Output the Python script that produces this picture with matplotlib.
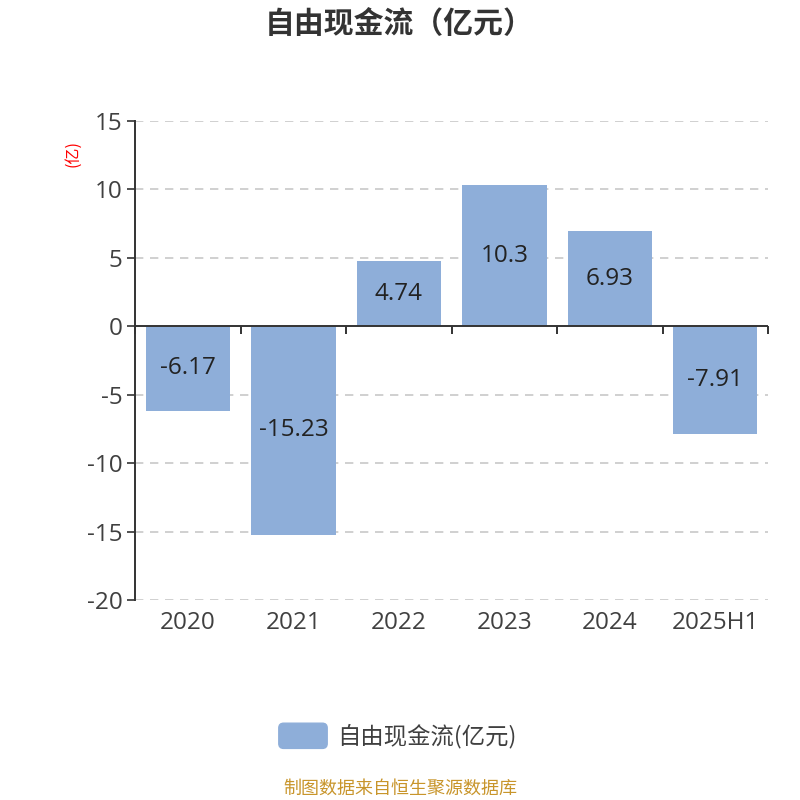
import matplotlib.pyplot as plt
from matplotlib.patches import FancyBboxPatch
import numpy as np

plt.rcParams['font.family'] = ['Open Sans', 'Noto Sans CJK SC', 'DejaVu Sans']

# data
years = ['2020', '2021', '2022', '2023', '2024', '2025H1']
fcf = [-6.17, -15.23, 4.74, 10.3, 6.93, -7.91]
fcf_labels = ['-6.17', '-15.23', '4.74', '10.3', '6.93', '-7.91']
y_ticks = [15, 10, 5, 0, -5, -10, -15, -20]

bar_color = '#8eaed9'
text_color = '#404040'
axis_color = '#333333'

fig = plt.figure(figsize=(8, 8), dpi=100)
ax = fig.add_axes([0.169, 0.25, 0.791, 0.599])

x = np.arange(len(years))
ax.bar(x, fcf, width=0.8, color=bar_color, zorder=2)
for xi, v, lab in zip(x, fcf, fcf_labels):
    ax.text(xi, v / 2, lab, ha='center', va='center', fontsize=17.5,
            color='#222222', zorder=3)

ax.set_xlim(-0.5, len(years) - 0.5)
ax.set_ylim(-20, 15)
ax.set_yticks(y_ticks)
ax.set_yticklabels([str(t) for t in y_ticks])
ax.tick_params(axis='y', length=6, width=1.2, color=axis_color,
               labelsize=17.5, labelcolor=text_color, pad=3)
ax.set_xticks(x)
ax.set_xticklabels(years)
ax.tick_params(axis='x', length=0, labelsize=17.5, labelcolor=text_color, pad=8)

for sp in ['top', 'right', 'bottom']:
    ax.spines[sp].set_visible(False)
ax.spines['left'].set_color(axis_color)
ax.spines['left'].set_linewidth(1.4)

for t in y_ticks:
    if t != 0:
        ax.axhline(t, color='#c8c8c8', lw=1.2, ls=(0, (5, 4)), zorder=1)
ax.axhline(0, color=axis_color, lw=1.4, zorder=4)

# category boundary tick marks on the zero line
ax2 = ax.twiny()
ax2.set_xlim(ax.get_xlim())
ax2.xaxis.set_ticks_position('bottom')
ax2.spines['bottom'].set_position(('data', 0))
for sp in ['top', 'right', 'left', 'bottom']:
    ax2.spines[sp].set_visible(False)
ax2.set_xticks(np.arange(-0.5, len(years), 1.0))
ax2.set_xticklabels([])
ax2.tick_params(axis='x', direction='out', length=6, width=1.4, color=axis_color)

ax.text(-0.098, 0.931, '(亿)', transform=ax.transAxes, rotation=90, color='red',
        fontsize=11.5, ha='center', va='center',
        family=['Noto Sans CJK SC'])

fig.text(0.4995, 0.970, '自由现金流（亿元）', ha='center', va='center',
         fontsize=21.5, fontweight='bold', color=axis_color,
         family=['Noto Sans CJK SC'])

# legend
fig.patches.append(FancyBboxPatch((0.3485, 0.0645), 0.0605, 0.0315,
                                  boxstyle='round,pad=0,rounding_size=0.006',
                                  transform=fig.transFigure, color=bar_color))
fig.text(0.422, 0.0805, '自由现金流(亿元)', ha='left', va='center',
         fontsize=16.8, color=text_color,
         family=['Noto Sans CJK SC', 'DejaVu Sans'])

fig.text(0.5, 0.014, '制图数据来自恒生聚源数据库', ha='center', va='center',
         fontsize=13, color='#c8952b',
         family=['Noto Sans CJK SC', 'DejaVu Sans'])

fig.savefig('out.png', dpi=100)
